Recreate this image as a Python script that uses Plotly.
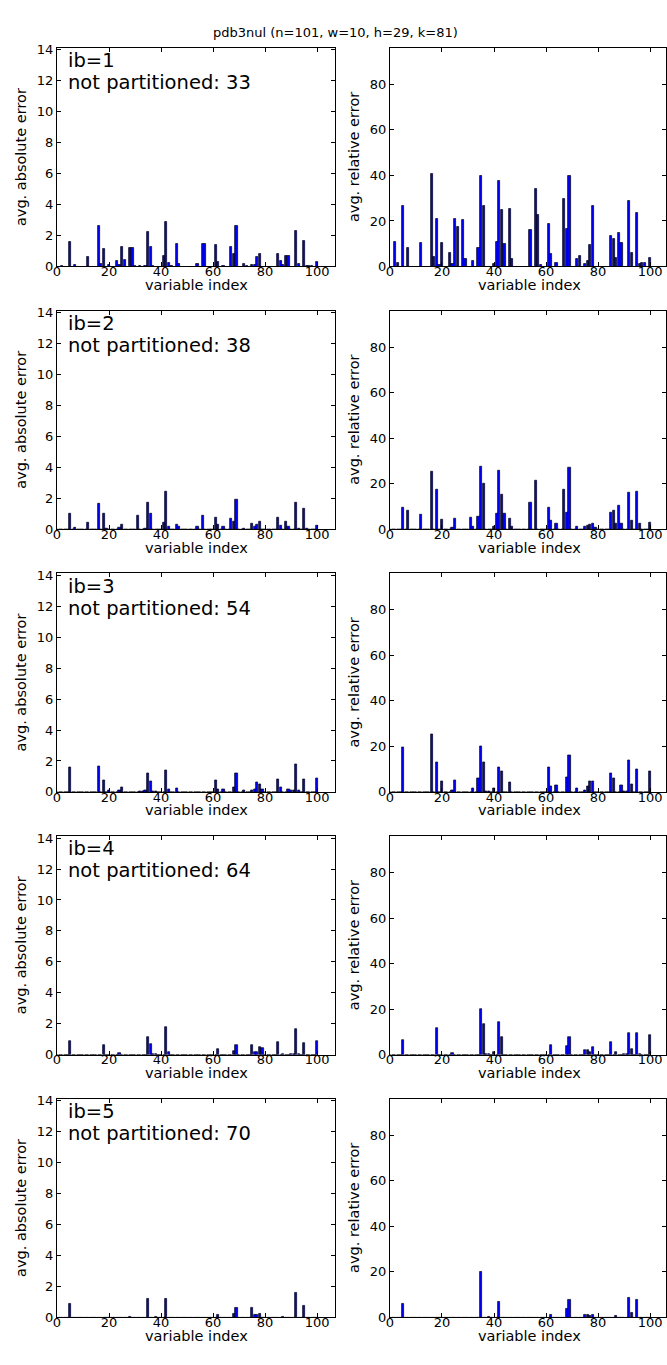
import plotly.graph_objects as go

# ---- data: per-variable average errors for each i-bound (ib) ----
n_vars = 101
ib_values = [1, 2, 3, 4, 5]
not_partitioned = [33, 38, 54, 64, 70]

# absolute error (left column): variable indices and values
ib1_abs_idx = [2, 5, 7, 12, 16, 17, 18, 20, 23, 24, 25, 26, 28, 29, 30, 32, 34, 35, 36, 37,
               41, 42, 43, 44, 46, 47, 54, 56, 57, 61, 62, 64, 67, 68, 69, 72, 73, 75, 76, 77,
               78, 85, 86, 87, 88, 89, 92, 93, 95, 96, 97, 98, 100]
ib1_abs_val = [0.05, 1.6, 0.1, 0.6, 2.65, 0.15, 1.15, 0.1, 0.35, 0.1, 1.25, 0.45, 1.2, 1.2, 0.05, 0.05, 0.05, 2.25, 1.25, 0.05,
               0.7, 2.9, 0.25, 0.05, 1.45, 0.2, 0.2, 1.45, 1.45, 1.4, 0.3, 0.05, 1.25, 0.8, 2.6, 0.15, 0.05, 0.1, 0.1, 0.65,
               0.8, 0.8, 0.35, 0.1, 0.7, 0.7, 2.3, 0.15, 1.65, 0.05, 0.05, 0.05, 0.3]

ib2_abs_idx = [5, 7, 12, 16, 18, 19, 24, 25, 31, 34, 35, 36, 41, 42, 43, 46, 47, 54, 56, 61,
               62, 64, 67, 68, 69, 72, 75, 76, 77, 78, 85, 86, 88, 89, 92, 93, 95, 96, 100]
ib2_abs_val = [0.98, 0.1, 0.4, 1.65, 1.0, 0.05, 0.08, 0.28, 0.85, 0.05, 1.72, 0.98, 0.4, 2.4, 0.15, 0.28, 0.18, 0.15, 0.85, 0.72,
               0.28, 0.15, 0.67, 0.5, 1.93, 0.05, 0.33, 0.2, 0.3, 0.5, 0.78, 0.22, 0.5, 0.15, 1.7, 0.05, 1.3, 0.05, 0.25]

ib3_abs_idx = [5, 16, 18, 20, 24, 25, 32, 33, 34, 35, 36, 37, 38, 42, 43, 46, 61, 62, 64, 68,
               69, 72, 75, 76, 77, 78, 79, 85, 86, 89, 90, 91, 92, 93, 95, 100]
ib3_abs_val = [1.57, 1.68, 0.77, 0.1, 0.1, 0.32, 0.04, 0.04, 0.09, 1.22, 0.7, 0.05, 0.04, 1.4, 0.15, 0.26, 0.77, 0.2, 0.2, 0.32,
               1.22, 0.09, 0.1, 0.2, 0.6, 0.5, 0.17, 0.84, 0.28, 0.2, 0.09, 0.08, 1.76, 0.1, 0.84, 0.9]

ib4_abs_idx = [5, 18, 24, 35, 36, 37, 38, 42, 43, 62, 68, 69, 75, 76, 77, 78, 79, 85, 87, 90,
               91, 92, 93, 95, 100]
ib4_abs_val = [0.9, 0.65, 0.09, 1.16, 0.7, 0.04, 0.04, 1.78, 0.15, 0.37, 0.24, 0.65, 0.6, 0.17, 0.2, 0.5, 0.45, 0.84, 0.04, 0.04,
               0.04, 1.63, 0.05, 0.77, 0.9]

ib5_abs_idx = [5, 28, 35, 38, 42, 62, 68, 69, 75, 76, 77, 78, 87, 92, 95]
ib5_abs_val = [0.89, 0.04, 1.2, 0.05, 1.2, 0.2, 0.24, 0.6, 0.6, 0.15, 0.2, 0.24, 0.04, 1.6, 0.78]

# relative error (right column)
ib1_rel_idx = [2, 3, 5, 7, 12, 16, 17, 18, 19, 20, 23, 24, 25, 26, 28, 29, 32, 34, 35, 36,
               40, 41, 42, 43, 44, 46, 47, 54, 56, 57, 58, 61, 62, 64, 67, 68, 69, 72, 73, 75,
               76, 77, 78, 85, 86, 87, 88, 89, 92, 93, 95, 96, 97, 98, 100]
ib1_rel_val = [11.0, 1.5, 26.7, 8.3, 10.2, 40.5, 4.0, 20.7, 0.8, 10.3, 5.8, 1.0, 20.7, 17.6, 20.3, 3.3, 2.6, 8.0, 39.8, 26.5,
               1.0, 10.8, 37.8, 25.0, 10.0, 25.3, 3.4, 16.0, 34.0, 22.5, 0.6, 18.8, 5.7, 1.8, 29.5, 16.4, 40.0, 3.2, 4.5, 1.0,
               2.6, 9.5, 26.4, 13.3, 12.0, 3.8, 14.8, 10.2, 29.0, 5.8, 23.7, 1.2, 1.8, 1.8, 3.9]

ib2_rel_idx = [5, 7, 12, 16, 18, 20, 24, 25, 31, 32, 34, 35, 36, 40, 41, 42, 43, 44, 46, 47,
               54, 56, 61, 62, 64, 67, 68, 69, 72, 75, 76, 77, 78, 79, 85, 86, 87, 88, 89, 92,
               93, 95, 96, 100]
ib2_rel_val = [9.4, 8.3, 6.4, 25.5, 17.4, 4.0, 0.6, 4.8, 5.2, 1.0, 5.5, 27.3, 20.0, 1.3, 6.7, 25.8, 15.0, 7.0, 4.6, 1.0,
               11.7, 21.3, 9.4, 3.8, 2.5, 17.2, 7.1, 27.2, 1.0, 1.3, 1.6, 1.9, 2.5, 0.6, 7.4, 8.3, 2.3, 10.4, 2.3, 16.2,
               3.9, 16.7, 2.3, 3.0]

ib3_rel_idx = [5, 16, 18, 20, 24, 25, 32, 34, 35, 36, 37, 38, 40, 42, 43, 46, 61, 62, 64, 68,
               69, 72, 75, 76, 77, 78, 85, 86, 89, 90, 91, 92, 93, 95, 100]
ib3_rel_val = [19.8, 25.5, 13.2, 4.8, 0.6, 5.2, 1.4, 6.1, 20.1, 13.2, 0.3, 0.3, 1.7, 11.0, 9.1, 4.0, 10.6, 2.6, 2.9, 6.4,
               16.0, 1.7, 0.6, 2.5, 4.8, 4.5, 8.3, 5.9, 2.9, 0.3, 0.3, 13.9, 3.3, 9.9, 9.1]

ib4_rel_idx = [5, 18, 24, 35, 36, 37, 38, 40, 42, 43, 62, 68, 69, 75, 76, 77, 78, 85, 87, 90,
               91, 92, 93, 95, 96, 100]
ib4_rel_val = [6.4, 11.7, 0.7, 19.9, 13.3, 0.3, 0.3, 1.0, 14.3, 7.8, 4.1, 3.6, 7.8, 2.2, 1.9, 1.2, 3.2, 5.5, 1.0, 0.3,
               0.3, 9.7, 2.5, 9.7, 0.3, 8.6]

ib5_rel_idx = [5, 35, 38, 42, 62, 68, 69, 75, 76, 77, 78, 87, 92, 93, 95]
ib5_rel_val = [6.0, 19.9, 0.3, 6.8, 1.3, 3.7, 7.6, 1.0, 1.3, 0.7, 1.0, 0.6, 8.4, 2.1, 7.6]

abs_series = [(ib1_abs_idx, ib1_abs_val), (ib2_abs_idx, ib2_abs_val), (ib3_abs_idx, ib3_abs_val),
              (ib4_abs_idx, ib4_abs_val), (ib5_abs_idx, ib5_abs_val)]
rel_series = [(ib1_rel_idx, ib1_rel_val), (ib2_rel_idx, ib2_rel_val), (ib3_rel_idx, ib3_rel_val),
              (ib4_rel_idx, ib4_rel_val), (ib5_rel_idx, ib5_rel_val)]

x_ticks = [0, 20, 40, 60, 80, 100]
abs_ticks = [0, 2, 4, 6, 8, 10, 12, 14]
rel_ticks = [0, 20, 40, 60, 80]


def full_row(idx, val):
    row = [0.0] * n_vars
    for i, v in zip(idx, val):
        row[i] = v
    return row


# ---- layout geometry (pixels) ----
W, H = 667, 1365
FONT = "DejaVu Sans"
left_x0, left_x1 = 53.3, 333.3
right_x0 = 388.3
x_scale = (left_x1 - left_x0) / 107.0
right_x1 = 666.0
row_bottom0, row_step, row_height = 264.0, 265.25, 220.7


def px(x):
    return x / W


def py(y):
    return 1 - y / H


fig = go.Figure()
layout_axes = {}
annotations = []

for r in range(5):
    bottom = row_bottom0 + row_step * r
    top = bottom - row_height
    for c in range(2):
        k = r * 2 + c + 1
        xa = "x" if k == 1 else f"x{k}"
        ya = "y" if k == 1 else f"y{k}"
        idx, val = (abs_series if c == 0 else rel_series)[r]
        fig.add_trace(go.Bar(
            x=list(range(n_vars)), y=full_row(idx, val), width=0.85,
            marker=dict(color="#0000ff", line=dict(color="black", width=0.7)),
            xaxis=xa, yaxis=ya, showlegend=False, hoverinfo="x+y",
        ))
        if c == 0:
            x0, x1 = left_x0, left_x1
            yrange = [0, 14.13]
            yticks = abs_ticks
            ylabel = "avg. absolute error"
            ylab_x = 17
        else:
            x0, x1 = right_x0, right_x1
            yrange = [0, 96.0]
            yticks = rel_ticks
            ylabel = "avg. relative error"
            ylab_x = 352
        axis_common = dict(
            showline=True, linecolor="black", linewidth=1, mirror="allticks",
            ticks="inside", ticklen=4, tickcolor="black", showgrid=False, zeroline=False,
            tickfont=dict(family=FONT, size=13, color="black"),
        )
        layout_axes["xaxis" if k == 1 else f"xaxis{k}"] = dict(
            domain=[px(x0), px(x1)], range=[0, (x1 - x0) / x_scale], tickvals=x_ticks,
            anchor=ya, ticklabelstandoff=-7, **axis_common)
        layout_axes["yaxis" if k == 1 else f"yaxis{k}"] = dict(
            domain=[py(bottom), py(top)], range=yrange, tickvals=yticks, anchor=xa, **axis_common)
        annotations.append(dict(
            text=ylabel, x=px(ylab_x), y=py((top + bottom) / 2), xref="paper", yref="paper",
            textangle=-90, showarrow=False, xanchor="center", yanchor="middle",
            font=dict(family=FONT, size=14.5, color="black")))
        annotations.append(dict(
            text="variable index", x=px(x0 + 53.5 * x_scale), y=py(bottom + 18.5), xref="paper",
            yref="paper", showarrow=False, xanchor="center", yanchor="middle",
            font=dict(family=FONT, size=14.5, color="black")))
    annotations.append(dict(
        text=f"ib={ib_values[r]}", x=px(62), y=py(top + 13), xref="paper", yref="paper",
        showarrow=False, xanchor="left", yanchor="middle",
        font=dict(family=FONT, size=19.5, color="black")))
    annotations.append(dict(
        text=f"not partitioned: {not_partitioned[r]}", x=px(62), y=py(top + 35), xref="paper",
        yref="paper", showarrow=False, xanchor="left", yanchor="middle",
        font=dict(family=FONT, size=19.5, color="black")))

annotations.append(dict(
    text="pdb3nul (n=101, w=10, h=29, k=81)", x=0.5, y=py(28), xref="paper", yref="paper",
    showarrow=False, xanchor="center", yanchor="middle",
    font=dict(family=FONT, size=13, color="black")))

fig.update_layout(
    width=W, height=H, margin=dict(l=0, r=0, t=0, b=0),
    paper_bgcolor="white", plot_bgcolor="white", bargap=0,
    annotations=annotations, **layout_axes,
)

fig.write_html("out.html", config={"displayModeBar": False})
